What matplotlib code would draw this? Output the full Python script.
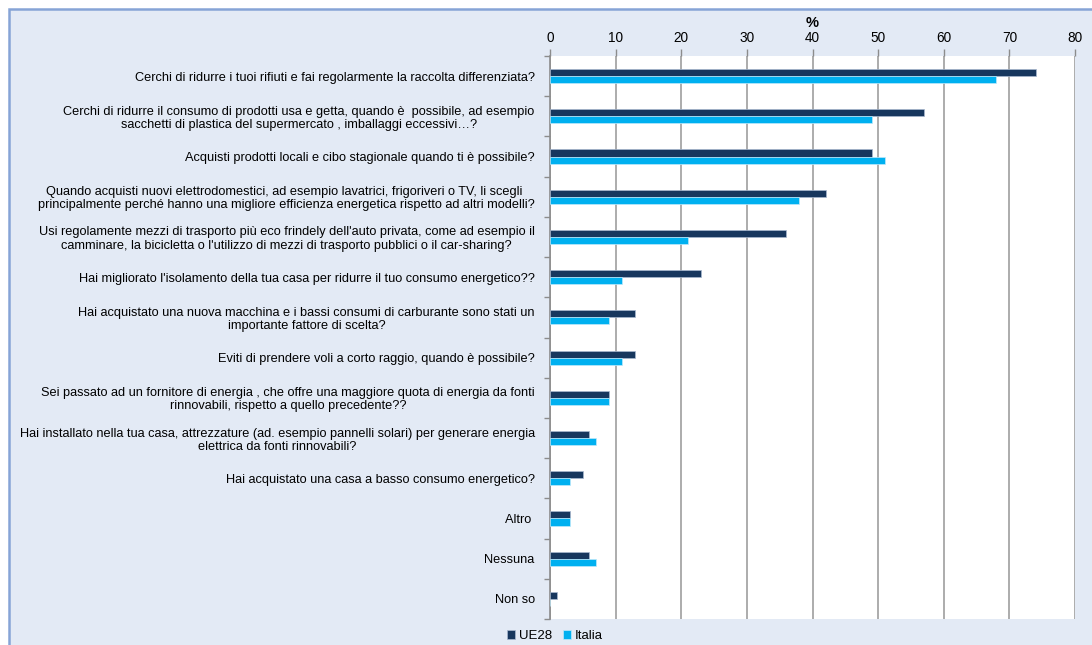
import numpy as np
import matplotlib
matplotlib.use("Agg")
import matplotlib.pyplot as plt
from matplotlib.patches import Rectangle

plt.rcParams['font.family'] = ['Liberation Sans', 'DejaVu Sans']

categories = [
    "Cerchi di ridurre i tuoi rifiuti e fai regolarmente la raccolta differenziata?",
    "Cerchi di ridurre il consumo di prodotti usa e getta, quando è  possibile, ad esempio\nsacchetti di plastica del supermercato , imballaggi eccessivi…?",
    "Acquisti prodotti locali e cibo stagionale quando ti è possibile?",
    "Quando acquisti nuovi elettrodomestici, ad esempio lavatrici, frigoriveri o TV, li scegli \nprincipalmente perché hanno una migliore efficienza energetica rispetto ad altri modelli?",
    "Usi regolamente mezzi di trasporto più eco frindely dell'auto privata, come ad esempio il\ncamminare, la bicicletta o l'utilizzo di mezzi di trasporto pubblici o il car-sharing?",
    "Hai migliorato l'isolamento della tua casa per ridurre il tuo consumo energetico??",
    "Hai acquistato una nuova macchina e i bassi consumi di carburante sono stati un\nimportante fattore di scelta?",
    "Eviti di prendere voli a corto raggio, quando è possibile?",
    "Sei passato ad un fornitore di energia , che offre una maggiore quota di energia da fonti\nrinnovabili, rispetto a quello precedente??",
    "Hai installato nella tua casa, attrezzature (ad. esempio pannelli solari) per generare energia\nelettrica da fonti rinnovabili?",
    "Hai acquistato una casa a basso consumo energetico?",
    "Altro ",
    "Nessuna",
    "Non so",
]
ue28 = [74, 57, 49, 42, 36, 23, 13, 13, 9, 6, 5, 3, 6, 1]
italia = [68, 49, 51, 38, 21, 11, 9, 11, 9, 7, 3, 3, 7, 0]
xticks = [0, 10, 20, 30, 40, 50, 60, 70, 80]

W, H = 1092, 645
fig = plt.figure(figsize=(W / 100, H / 100), dpi=100)
fig.patch.set_facecolor('white')
# light blue panel with border on left/top
panel = Rectangle((9 / W, -0.05), 1.1, 1 - 9 / H + 0.05, transform=fig.transFigure,
                  facecolor='#E3EAF5', edgecolor='#86A4D6', linewidth=1.8, zorder=-10)
fig.patches.append(panel)

ax = fig.add_axes([550 / W, 1 - 619 / H, 525 / W, 563 / H])
ax.set_zorder(1)
ax.set_facecolor('white')

y = np.arange(len(categories))
h = 0.175
ax.barh(y - h / 2, ue28, height=h, color='#17375E', edgecolor='#A9B9D0', linewidth=0.5, label='UE28', zorder=3)
ax.barh(y + h / 2, italia, height=h, color='#00B0F0', edgecolor='#BFE9FA', linewidth=0.5, label='Italia', zorder=3)

ax.set_xlim(0, 80)
ax.set_ylim(len(categories) - 0.5, -0.5)
ax.xaxis.tick_top()
ax.xaxis.set_label_position('top')
ax.set_xticks(xticks)
ax.set_xlabel('%', fontweight='bold', fontsize=10.5, labelpad=2.5)
ax.tick_params(axis='x', length=5, color='#8C8C8C', labelsize=9.8, pad=3, width=1)
ax.grid(axis='x', color='#A6A6A6', linewidth=1.3, zorder=1)

ax.set_yticks(y)
ax.set_yticklabels(categories, fontsize=9.2)
for t in ax.get_yticklabels():
    t.set_multialignment('center')
    t.set_linespacing(1.12)
ax.tick_params(axis='y', length=0, pad=11)
ax.set_yticks(np.arange(-0.5, len(categories), 1), minor=True)
ax.tick_params(axis='y', which='minor', length=4, color='#8C8C8C', width=1)

for s in ['top', 'right', 'bottom']:
    ax.spines[s].set_visible(False)
ax.spines['left'].set_color('#8C8C8C')
ax.spines['left'].set_linewidth(1.2)

fig.legend(loc='center', bbox_to_anchor=(555 / W, 1 - 636 / H), ncol=2, frameon=False,
           fontsize=9.5, handlelength=0.6, handleheight=0.6, handletextpad=0.3, columnspacing=0.8,
           borderpad=0)

fig.savefig('out.png', dpi=100)
